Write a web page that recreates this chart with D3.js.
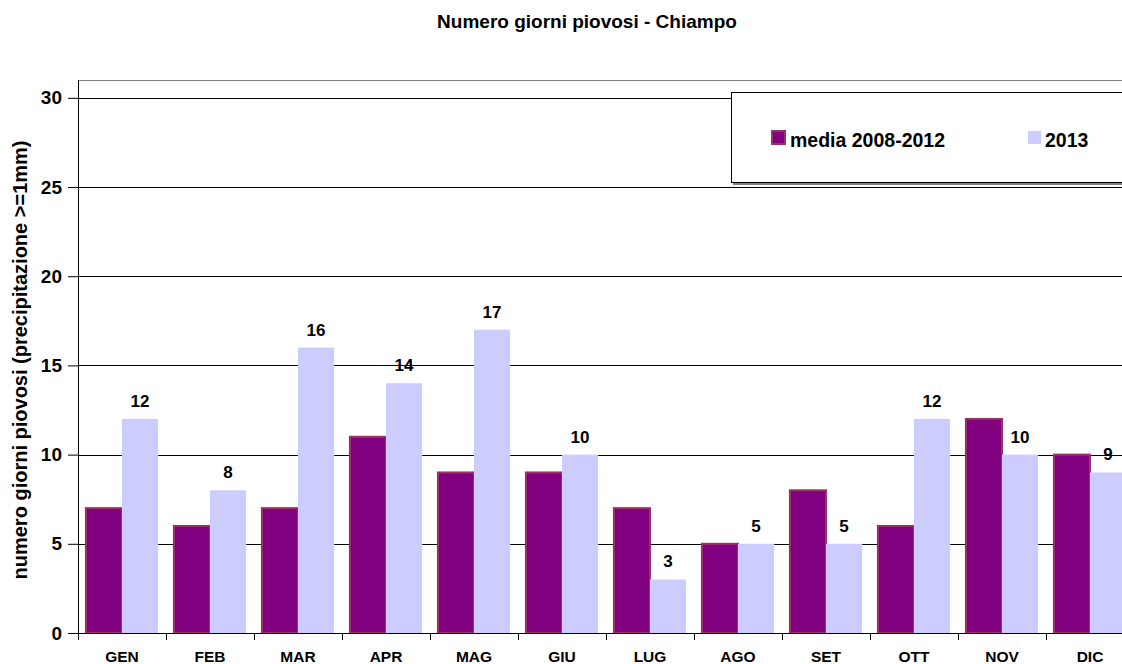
<!DOCTYPE html>
<html>
<head>
<meta charset="utf-8">
<script src="https://cdn.jsdelivr.net/npm/d3@7"></script>
<style>
  body { margin: 0; background: #fff; overflow: hidden; }
  text { font-family: Arial, "Liberation Sans", sans-serif; font-weight: bold; }
</style>
</head>
<body>
<div id="chart"></div>
<script>
// data
var months = ["GEN", "FEB", "MAR", "APR", "MAG", "GIU", "LUG", "AGO", "SET", "OTT", "NOV", "DIC"];
var media = [7, 6, 7, 11, 9, 9, 7, 5, 8, 6, 12, 10];
var anno2013 = [12, 8, 16, 14, 17, 10, 3, 5, 5, 12, 10, 9];
var yTicks = [0, 5, 10, 15, 20, 25, 30];
var seriesNames = ["media 2008-2012", "2013"];

var W = 1122, H = 664;
var margin = {top: 80, left: 78, bottom: 31};
var plotW = 88 * 12, plotH = H - margin.top - margin.bottom;

var svg = d3.select("#chart")
  .append("svg")
    .attr("width", W)
    .attr("height", H);

// title (centred on the full chart, which is cut at the right)
svg.append("text")
  .attr("x", 587).attr("y", 28)
  .attr("text-anchor", "middle")
  .style("font-size", "19px")
  .text("Numero giorni piovosi - Chiampo");

var g = svg.append("g")
  .attr("transform", "translate(" + margin.left + "," + margin.top + ")");

var x = d3.scaleBand()
  .domain(months)
  .range([0, plotW])
  .paddingInner(0.18)
  .paddingOuter(0.09);

var xs = d3.scaleBand()
  .domain([0, 1])
  .range([0, x.bandwidth()]);

var y = d3.scaleLinear()
  .domain([0, 31])
  .range([plotH, 0]);

// plot area top border
g.append("line")
  .attr("x1", 0).attr("x2", plotW)
  .attr("y1", 0.5).attr("y2", 0.5)
  .attr("stroke", "#808080");

// gridlines
g.selectAll("grid")
  .data(yTicks.slice(1))
  .enter()
  .append("line")
    .attr("x1", 0).attr("x2", plotW)
    .attr("y1", function(d) { return Math.round(y(d)) + 0.5 })
    .attr("y2", function(d) { return Math.round(y(d)) + 0.5 })
    .attr("stroke", "#000");

// bars
var groups = g.selectAll("months")
  .data(months)
  .enter()
  .append("g")
    .attr("transform", function(d) { return "translate(" + x(d) + ",0)" });

groups.append("rect")
  .attr("x", xs(0))
  .attr("y", function(d, i) { return y(media[i]) })
  .attr("width", xs.bandwidth())
  .attr("height", function(d, i) { return plotH - y(media[i]) })
  .attr("fill", "#800080")
  .attr("stroke", "#993366")
  .attr("stroke-width", 2);

groups.append("rect")
  .attr("x", xs(1))
  .attr("y", function(d, i) { return y(anno2013[i]) })
  .attr("width", xs.bandwidth())
  .attr("height", function(d, i) { return plotH - y(anno2013[i]) })
  .attr("fill", "#ccccff");

// value labels for 2013
groups.append("text")
  .attr("x", xs(1) + xs.bandwidth() / 2)
  .attr("y", function(d, i) { return y(anno2013[i]) - 12 })
  .attr("text-anchor", "middle")
  .style("font-size", "17px")
  .text(function(d, i) { return anno2013[i] });

// y axis
var yAxis = g.append("g")
  .call(d3.axisLeft(y).tickValues(yTicks).tickSize(10).tickPadding(6));
yAxis.select(".domain").attr("d", "M0.5," + plotH + "V0").attr("stroke", "#000");
yAxis.selectAll("text").style("font-size", "19px").attr("fill", "#000");

// x axis
var xAxis = g.append("g")
  .attr("transform", "translate(0," + plotH + ")");
xAxis.append("line")
  .attr("x1", 0).attr("x2", plotW)
  .attr("y1", 0.5).attr("y2", 0.5)
  .attr("stroke", "#000");
xAxis.selectAll("ticks")
  .data(d3.range(13))
  .enter()
  .append("line")
    .attr("x1", function(d) { return d * plotW / 12 + 0.5 })
    .attr("x2", function(d) { return d * plotW / 12 + 0.5 })
    .attr("y1", 0).attr("y2", 7)
    .attr("stroke", "#000");
xAxis.selectAll("labels")
  .data(months)
  .enter()
  .append("text")
    .attr("x", function(d) { return x(d) + x.bandwidth() / 2 })
    .attr("y", 29)
    .attr("text-anchor", "middle")
    .style("font-size", "15.5px")
    .text(function(d) { return d });

// y axis title
svg.append("text")
  .attr("transform", "translate(27,360) rotate(-90)")
  .attr("text-anchor", "middle")
  .style("font-size", "20px")
  .text("numero giorni piovosi (precipitazione >=1mm)");

// legend
var legend = svg.append("g");
legend.append("rect")
  .attr("x", 733).attr("y", 94)
  .attr("width", 420).attr("height", 91)
  .attr("fill", "#808080");
legend.append("rect")
  .attr("x", 731.5).attr("y", 92.5)
  .attr("width", 420).attr("height", 90)
  .attr("fill", "#fff")
  .attr("stroke", "#000");

legend.append("rect")
  .attr("x", 772).attr("y", 131)
  .attr("width", 13).attr("height", 13)
  .attr("fill", "#800080")
  .attr("stroke", "#993366")
  .attr("stroke-width", 2);
legend.append("text")
  .attr("x", 790).attr("y", 147)
  .style("font-size", "19.5px")
  .text(seriesNames[0]);

legend.append("rect")
  .attr("x", 1028).attr("y", 131)
  .attr("width", 13).attr("height", 13)
  .attr("fill", "#ccccff");
legend.append("text")
  .attr("x", 1045).attr("y", 147)
  .style("font-size", "19.5px")
  .text(seriesNames[1]);
</script>
</body>
</html>
